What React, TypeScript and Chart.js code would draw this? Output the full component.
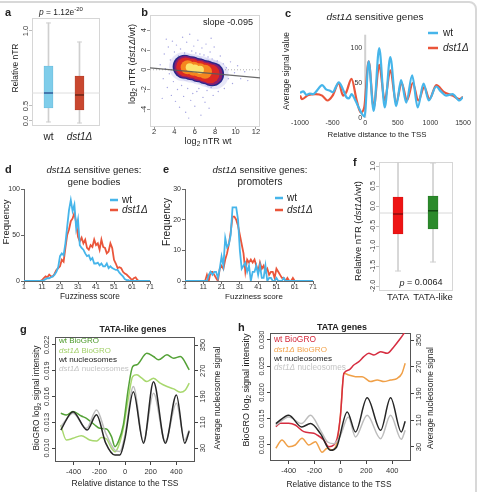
import React, { useEffect, useRef } from 'react';
import { Chart, registerables } from 'chart.js';

Chart.register(...registerables);

const W = 480;
const H = 492;
const FONT = '"Liberation Sans", Arial, Helvetica, sans-serif';
const INK = '#222';
const TICK_INK = '#333';

type Pt = [number, number];
const xy = (pts: Pt[]) => pts.map(([x, y]) => ({ x, y }));

/* ---------- a: relative nTR per strain ---------- */
const aPos = [1, 2];
const aNames = ['wt', 'dst1Δ'];
const aQ1 = [0.433, 0.367];
const aQ3 = [1.833, 1.5];
const aMed = [0.933, 0.867];
const aLow = [-0.033, -0.067];
const aHigh = [3.267, 2.633];
const aRef = 0.933;
const aTicks = [0, 0.5, 3];
const aTickText = ['0.0', '0.5', '1.0'];

/* ---------- b: log2 nTR dst1Δ/wt vs wt ---------- */
const bTicksX = [2, 4, 6, 8, 10, 12];
const bTicksY = [-4, -2, 0, 2, 4];
const bFit: Pt[] = [[1.6, 0.2], [12.4, -0.83]];
const bZero: Pt[] = [[1.6, 0], [12.4, 0]];
const bHalo: Pt[] = [[4.9, 0.3], [5.7, 0.15], [6.5, -0.05], [7.3, -0.3], [7.9, -0.5]];
const bBlue: Pt[] = [[5.0, 0.3], [5.7, 0.15], [6.4, -0.05], [7.1, -0.25], [7.7, -0.45]];
const bPurple: Pt[] = [[5.05, 0.3], [5.7, 0.15], [6.4, -0.05], [7.05, -0.25], [7.65, -0.45]];
const bRed: Pt[] = [[5.1, 0.28], [5.7, 0.15], [6.4, -0.05], [7.0, -0.25], [7.5, -0.4]];
const bOrange: Pt[] = [[5.3, 0.25], [5.9, 0.1], [6.5, -0.05], [7.0, -0.2]];
const bYellow: Pt[] = [[5.5, 0.25], [6.0, 0.12], [6.5, 0.0]];
const bSparse: Pt[] = [
  [2.6, 0.5], [2.9, -0.9], [3.0, 1.6], [3.1, 0.1], [3.3, -1.8], [3.4, 2.3], [3.5, -0.4], [3.6, 1.0],
  [3.7, -2.6], [3.8, 2.9], [3.9, -1.2], [4.0, 1.8], [4.1, -3.2], [4.2, 2.5], [4.3, -2.0], [4.4, 1.4],
  [4.5, -3.8], [4.6, 2.1], [4.7, -1.6], [4.8, 3.3], [4.9, -2.7], [5.0, 1.7], [5.1, -4.3], [5.2, 2.8],
  [5.3, -1.9], [5.5, 3.6], [5.6, -3.1], [5.7, 1.9], [5.8, -2.4], [5.9, 2.4], [6.0, -3.7], [6.1, 1.7],
  [6.2, -2.2], [6.3, 3.0], [6.4, -1.9], [6.5, 1.6], [6.6, -4.6], [6.7, 2.2], [6.8, -2.8], [6.9, 1.5],
  [7.0, -3.3], [7.1, 2.6], [7.2, -2.1], [7.3, 1.3], [7.4, -3.9], [7.5, 1.8], [7.6, -1.8], [7.7, 1.1],
  [7.8, -2.6], [7.9, 2.3], [8.0, -1.5], [8.2, 0.9], [8.3, -2.2], [8.5, 1.4], [8.6, -1.2], [8.8, 0.6],
  [8.9, -1.9], [9.1, 0.2], [9.3, -0.9], [9.5, 0.8], [9.7, -1.4], [9.9, -0.3], [10.2, 0.4], [10.5, -0.9],
  [10.9, -0.2], [11.2, -1.1], [3.2, 3.1], [5.4, -4.9], [7.6, 3.2], [2.8, -2.9],
];

/* ---------- c: average nucleosome signal around the TSS ---------- */
const cTicksX = [-1000, -500, 0, 500, 1000, 1500];
const cTicksY = [0, 50, 100];
const cTss: Pt[] = [[0, 0], [0, 119]];
const cWt: Pt[] = [
  [-1000, 36], [-950, 38], [-900, 33], [-850, 35], [-800, 34], [-750, 38], [-660, 47], [-600, 41],
  [-540, 39], [-500, 37], [-405, 51], [-350, 43], [-290, 30], [-250, 28], [-210, 34], [-150, 25],
  [-100, 15], [-50, 6], [-10, 2], [53, 81], [130, 10], [215, 100], [300, 15], [385, 87], [475, 17],
  [550, 54], [630, 22], [720, 61], [805, 15], [895, 49], [975, 25], [1090, 45], [1160, 38],
  [1240, 32], [1340, 34], [1445, 25], [1500, 30],
];
const cDst: Pt[] = [
  [-1000, 32], [-970, 27], [-870, 33], [-760, 34], [-660, 32], [-580, 25], [-500, 32], [-405, 50],
  [-340, 32], [-290, 37], [-210, 56], [-130, 25], [-70, 8], [-15, 15], [53, 81], [130, 15], [215, 76],
  [300, 25], [385, 68], [475, 22], [560, 50], [640, 25], [730, 50], [815, 25], [905, 44], [985, 27],
  [1090, 47], [1210, 37], [1340, 32], [1445, 27], [1500, 30],
];

/* ---------- d / e: fuzziness score histograms ---------- */
const fuzzScores = Array.from({ length: 71 }, (_, i) => i + 1);
const fuzzTicks = [1, 11, 21, 31, 41, 51, 61, 71];
const dWt = [
  0, 0, 0, 0, 0, 0, 0, 0, 0, 0,
  0, 1, 2, 3, 3, 4, 5, 7, 10, 15,
  27, 30, 28, 41, 59, 77, 88, 76, 83, 57,
  67, 39, 36, 34, 30, 27, 28, 23, 25, 19,
  19, 20, 17, 19, 16, 16, 19, 14, 16, 14,
  13, 12, 12, 9, 7, 5, 2, 1, 1, 0,
  0, 0, 0, 0, 0, 0, 0, 0, 0, 0, 0,
];
const dDst = [
  null, null, null, null, null, null, null, null, null, 0,
  1, 3, 5, 4, 7, 5, 5, 8, 12, 14,
  16, 23, 21, 36, 50, 56, 65, 68, 74, 63,
  48, 43, 47, 41, 45, 36, 34, 39, 37, 45,
  39, 41, 34, 45, 37, 36, 30, 32, 41, 36,
  23, 19, 14, 15, 14, 10, 8, 7, 5, 3,
  1, 3, 4, 1, 0, 0, 0, 0, 0, 0, 0,
];
const eWt = [
  0, 0, 0, 0, 0, 0, 0, 0, 0, 0,
  0, 0, 0, 2, 3, 2, 3, 3, 1, 4,
  8, 5, 14, 11, 12, 15, 24, 24, 24, 20,
  10, 4, 5, 6, 3, 5, 0, 3, 3, 5,
  2, 5, 1, 1, 5, 0, 1, 1, 0, 0,
  1, 0, 0, 0, 1, 0, 0, 0, 0, 0,
  0, 0, 0, 0, 0, 0, 0, 0, 0, 0, 0,
];
const eDst = [
  null, null, null, null, null, null, null, null, null, null,
  null, 0, 2, 0, 3, 3, 2, 1, 0, 4,
  5, 4, 7, 9, 12, 16, 21, 21, 20, 18,
  15, 12, 9, 3, 7, 6, 7, 6, 7, 5,
  3, 6, 4, 5, 3, 4, 2, 3, 3, 1,
  4, 3, 2, 1, 1, 0, 1, 0, 0, 1,
  0, 0, 0, 0, 0, 0, 0, 0, 0, 0, 0,
];

/* ---------- f: relative nTR by promoter class ---------- */
const fPos = [1, 2];
const fNames = ['TATA', 'TATA-like'];
const fQ1 = [-0.7, -0.575];
const fQ3 = [0.225, 0.25];
const fMed = [-0.2, -0.12];
const fLow = [-1.625, -1.4];
const fHigh = [1.1, 1.075];
const fRef = -0.175;
const fTicks = [1, 0.5, 0, -0.5, -1, -1.5, -2];

/* ---------- g / h: BioGRO and nucleosome profiles ---------- */
const profTicksX = [-400, -200, 0, 200, 400];
const gTicksL = [0.01, 0.013, 0.016, 0.019, 0.022];
const hTicksL = [0.01, 0.015, 0.02, 0.025, 0.03];
const nucTicks = [30, 110, 190, 270, 350];

const gWtGro: Pt[] = [
  [-500, 0.01405], [-457, 0.01385], [-405, 0.01424], [-340, 0.01373], [-300, 0.01346], [-235, 0.01268],
  [-196, 0.0123], [-144, 0.01222], [-105, 0.01132], [-78, 0.01016], [-52, 0.01074], [-13, 0.01268],
  [26, 0.01696], [60, 0.01949], [92, 0.01969], [170, 0.02105], [222, 0.02066], [261, 0.02027],
  [327, 0.02085], [379, 0.02046], [431, 0.02066], [500, 0.0191],
];
const gDstGro: Pt[] = [
  [-500, 0.01268], [-457, 0.01093], [-405, 0.01113], [-340, 0.01144], [-275, 0.01093], [-220, 0.01082],
  [-183, 0.01121], [-144, 0.01105], [-105, 0.00996], [-78, 0.00957], [-52, 0.01016], [-13, 0.0123],
  [26, 0.0158], [60, 0.01832], [92, 0.01852], [131, 0.01813], [170, 0.01774], [222, 0.01813],
  [274, 0.01755], [327, 0.01716], [379, 0.01689], [431, 0.0165], [470, 0.01677], [500, 0.01755],
];
const gWtNuc: Pt[] = [
  [-500, 86], [-405, 143], [-295, 86], [-222, 133], [-150, 45], [-78, 8], [-40, 8], [0, 60],
  [65, 205], [144, 45], [222, 236], [314, 45], [400, 195], [465, 45], [500, 82],
];
const gDstNuc: Pt[] = [
  [-500, 96], [-405, 138], [-300, 91], [-222, 148], [-150, 76], [-80, 24], [-40, 19], [0, 70],
  [65, 221], [144, 50], [222, 200], [314, 50], [400, 169], [465, 55], [500, 86],
];

const hWtGro: Pt[] = [
  [-500, 0.01349], [-465, 0.01413], [-400, 0.01413], [-350, 0.01381], [-284, 0.01254], [-206, 0.01222],
  [-180, 0.0119], [-129, 0.01095], [-90, 0.00968], [-52, 0.01], [-26, 0.01127], [0, 0.01572],
  [26, 0.02365], [64, 0.02429], [103, 0.02524], [142, 0.02588], [180, 0.02683], [219, 0.02746],
  [258, 0.02715], [310, 0.02778], [361, 0.02746], [413, 0.02873], [464, 0.03032], [500, 0.0316],
];
const hDstGro: Pt[] = [
  [-500, 0.00937], [-452, 0.01095], [-400, 0.00968], [-350, 0.01], [-297, 0.01127], [-245, 0.01],
  [-194, 0.01064], [-142, 0.0086], [-103, 0.00937], [-64, 0.00905], [-26, 0.01064], [0, 0.01572],
  [26, 0.02365], [64, 0.02334], [116, 0.02302], [168, 0.02302], [232, 0.02207], [284, 0.02238],
  [335, 0.02207], [387, 0.02238], [439, 0.0227], [475, 0.02365], [500, 0.02556],
];
const hWtNuc: Pt[] = [
  [-500, 100], [-400, 125], [-300, 90], [-232, 100], [-155, 70], [-77, 20], [-30, 30], [52, 135],
  [116, 75], [206, 177], [310, 80], [387, 177], [470, 75], [500, 107],
];
const hDstNuc: Pt[] = [
  [-500, 95], [-400, 120], [-300, 100], [-232, 125], [-155, 80], [-100, 45], [-50, 40], [0, 65],
  [60, 120], [116, 60], [206, 125], [310, 55], [387, 125], [470, 53], [500, 80],
];

/* ---------- colours ---------- */
const BLUE = '#46b5ea';
const RED = '#ea553a';

/* ---------- drawing helpers ---------- */
type Seg = string | { t: string; i?: boolean; b?: boolean; sub?: boolean; sup?: boolean };
interface TextOpt {
  size?: number;
  w?: number;
  align?: 'left' | 'center' | 'right';
  rot?: boolean;
  color?: string;
  bold?: boolean;
}

function rich(ctx: CanvasRenderingContext2D, segs: Seg[], x: number, y: number, o: TextOpt = {}) {
  const parts = segs.map((s) => (typeof s === 'string' ? { t: s } : s)) as any[];
  const font = (p: any, sz: number) =>
    `${p.i ? 'italic ' : ''}${p.b || o.bold ? 'bold ' : ''}${p.sub || p.sup ? sz * 0.72 : sz}px ${FONT}`;
  const measure = (sz: number) =>
    parts.reduce((acc, p) => {
      ctx.font = font(p, sz);
      return acc + ctx.measureText(p.t).width;
    }, 0);
  ctx.save();
  let size = o.size ?? 10;
  if (o.w) size = (size * o.w) / measure(size);
  ctx.translate(x, y);
  if (o.rot) ctx.rotate(-Math.PI / 2);
  ctx.textBaseline = 'middle';
  ctx.textAlign = 'left';
  ctx.fillStyle = o.color ?? INK;
  const total = measure(size);
  let cx = o.align === 'left' ? 0 : o.align === 'right' ? -total : -total / 2;
  for (const p of parts) {
    ctx.font = font(p, size);
    const dy = p.sub ? size * 0.3 : p.sup ? -size * 0.38 : 0;
    ctx.fillText(p.t, cx, dy);
    cx += ctx.measureText(p.t).width;
  }
  ctx.restore();
}

function xLabels(ch: any, id: string, y: number, size: number, fmt: (v: number) => string = String) {
  const s = ch.scales[id];
  s.ticks.forEach((t: any) =>
    rich(ch.ctx, [fmt(t.value)], s.getPixelForValue(t.value), y, { size, color: TICK_INK })
  );
}

function yLabels(
  ch: any,
  id: string,
  x: number,
  size: number,
  rot: boolean,
  fmt: (v: number) => string = String,
  align: 'left' | 'center' | 'right' = 'center'
) {
  const s = ch.scales[id];
  s.ticks.forEach((t: any) =>
    rich(ch.ctx, [fmt(t.value)], x, s.getPixelForValue(t.value), { size, rot, align, color: TICK_INK })
  );
}

function legendLine(ctx: CanvasRenderingContext2D, x1: number, x2: number, y: number, color: string, lw = 2.2) {
  ctx.save();
  ctx.strokeStyle = color;
  ctx.lineWidth = lw;
  ctx.beginPath();
  ctx.moveTo(x1, y);
  ctx.lineTo(x2, y);
  ctx.stroke();
  ctx.restore();
}

const pad = (L: number, T: number, R: number, B: number) => ({ left: L, top: T, right: W - R, bottom: H - B });

const zeroFit = (s: any) => {
  if (s.isHorizontal()) s.height = 0;
  else s.width = 0;
};

function axis(o: {
  min: number;
  max: number;
  pos?: any;
  ticks?: number[];
  tick?: number;
  tc?: string;
  border?: boolean;
  bc?: string;
  bw?: number;
}) {
  const vals = o.ticks ?? [];
  return {
    type: 'linear',
    min: o.min,
    max: o.max,
    bounds: 'data',
    offset: false,
    position: o.pos,
    afterFit: zeroFit,
    afterBuildTicks: (s: any) => {
      s.ticks = vals.map((v) => ({ value: v }));
    },
    ticks: { display: false },
    grid: {
      display: !!o.tick,
      offset: false,
      drawOnChartArea: false,
      drawTicks: !!o.tick,
      tickLength: o.tick ?? 0,
      color: o.tc ?? '#555',
      tickColor: o.tc ?? '#555',
      lineWidth: 1,
    },
    border: { display: !!o.border, color: o.bc ?? '#555', width: o.bw ?? 1 },
  };
}

function baseOptions(padding: any, scales: any) {
  return {
    responsive: false,
    animation: false,
    devicePixelRatio: 1,
    events: [],
    layout: { padding },
    plugins: { legend: { display: false }, tooltip: { enabled: false }, title: { display: false } },
    scales,
  };
}

function framePlugin(color: string, lw = 1) {
  return {
    id: 'frame',
    beforeDatasetsDraw(ch: any) {
      const { left, top, right, bottom } = ch.chartArea;
      const c = ch.ctx;
      c.save();
      c.strokeStyle = color;
      c.lineWidth = lw;
      c.strokeRect(Math.round(left) + 0.5, Math.round(top) + 0.5, Math.round(right - left) - 1, Math.round(bottom - top) - 1);
      c.restore();
    },
  };
}

const textPlugin = (draw: (ch: any) => void) => ({ id: 'labels', afterDraw: draw });

const line = (data: Pt[], color: string, width: number, extra: any = {}) => ({
  type: 'line',
  data: xy(data),
  borderColor: color,
  borderWidth: width,
  pointRadius: 0,
  fill: false,
  cubicInterpolationMode: 'monotone',
  ...extra,
});

const dots = (data: Pt[], color: string, r: number, extra: any = {}) => ({
  type: 'scatter',
  data: xy(data),
  showLine: false,
  pointRadius: r,
  pointBackgroundColor: color,
  pointBorderWidth: 0,
  ...extra,
});

/* boxplot pieces: median, box, caps, whisker */
function boxDatasets(
  pos: number[],
  q1: number[],
  q3: number[],
  med: number[],
  lo: number[],
  hi: number[],
  fills: string[],
  edges: string[],
  medColors: string[],
  boxW: number,
  capR: number,
  whisker: string
) {
  return [
    {
      type: 'scatter',
      data: pos.map((p, i) => ({ x: p, y: med[i] })),
      pointStyle: 'line',
      pointRadius: boxW / 2,
      pointBorderColor: medColors,
      pointBorderWidth: 1.3,
      showLine: false,
    },
    {
      type: 'bar',
      data: pos.map((p, i) => ({ x: p, y: [q1[i], q3[i]] })),
      backgroundColor: fills,
      borderColor: edges,
      borderWidth: 0.6,
      borderSkipped: false,
      barThickness: boxW,
      grouped: false,
    },
    {
      type: 'scatter',
      data: pos.flatMap((p, i) => [{ x: p, y: lo[i] }, { x: p, y: hi[i] }]),
      pointStyle: 'line',
      pointRadius: capR,
      pointBorderColor: whisker,
      pointBorderWidth: 1,
      showLine: false,
    },
    {
      type: 'bar',
      data: pos.map((p, i) => ({ x: p, y: [lo[i], hi[i]] })),
      backgroundColor: whisker,
      borderWidth: 0,
      barThickness: 1,
      grouped: false,
    },
  ];
}

/* ---------- panels ---------- */
function panelA() {
  const L = 32, T = 18, R = 100, B = 126;
  return {
    type: 'bar',
    data: {
      datasets: [
        ...boxDatasets(aPos, aQ1, aQ3, aMed, aLow, aHigh, ['#7fcdea', '#c9472f'], ['#5eb3d6', '#a83a26'],
          ['#244a8c', '#5a2016'], 9, 2.5, '#cfcfcf'),
        line([[0.4, aRef], [2.7, aRef]], '#dedede', 1, { cubicInterpolationMode: 'default' }),
      ],
    },
    options: baseOptions(pad(L, T, R, B), {
      x: axis({ min: 0.468, max: 2.662 }),
      y: axis({ min: -0.167, max: 3.433, ticks: aTicks, tick: 3, tc: '#bdbdbd' }),
    }),
    plugins: [
      framePlugin('#d6d6d6'),
      textPlugin((ch) => {
        const c = ch.ctx;
        rich(c, ['a'], 5, 13, { size: 11, bold: true, align: 'left' });
        rich(c, [{ t: 'p', i: true }, ' = 1.12e', { t: '-20', sup: true }], 61, 13, { w: 44 });
        rich(c, ['Relative nTR'], 16, 68, { w: 49, rot: true });
        aNames.forEach((n, i) =>
          rich(c, [i === 0 ? n : { t: n, i: true }], ch.scales.x.getPixelForValue(aPos[i]), 137, { size: 10 })
        );
        yLabels(ch, 'y', 26, 7.5, true, (v) => aTickText[aTicks.indexOf(v)]);
      }),
    ],
  };
}

function panelB() {
  const L = 150, T = 13, R = 260, B = 126;
  return {
    type: 'scatter',
    data: {
      datasets: [
        line(bFit, 'rgba(90,90,90,0.9)', 1.2, { cubicInterpolationMode: 'default' }),
        dots(bYellow, '#fbe36e', 4),
        dots(bOrange, '#f5861f', 7),
        dots(bRed, '#dc2a24', 9.5),
        dots(bPurple, '#8a1f6e', 10.8),
        dots(bBlue, '#27278a', 12),
        dots(bHalo, 'rgba(120,120,215,0.18)', 14.5),
        dots(bSparse, 'rgba(90,90,200,0.55)', 0.7),
        line(bZero, '#b5b5b5', 1, { borderDash: [1, 2], cubicInterpolationMode: 'default' }),
      ],
    },
    options: baseOptions(pad(L, T, R, B), {
      x: axis({ min: 1.6, max: 12.4, ticks: bTicksX, tick: 3, tc: '#9a9a9a' }),
      y: axis({ min: -5.7, max: 5.6, ticks: bTicksY, tick: 3, tc: '#9a9a9a' }),
    }),
    plugins: [
      framePlugin('#d6d6d6'),
      textPlugin((ch) => {
        const c = ch.ctx;
        rich(c, ['b'], 148, 13, { size: 11, bold: true, align: 'right' });
        rich(c, ['slope -0.095'], 228, 22, { w: 50 });
        rich(c, ['log', { t: '2', sub: true }, ' nTR (', { t: 'dst1Δ', i: true }, '/wt)'], 132, 64, { w: 80, rot: true });
        rich(c, ['log', { t: '2', sub: true }, ' nTR wt'], 208, 141, { w: 47 });
        xLabels(ch, 'x', 132, 7.5);
        yLabels(ch, 'y', 144, 7.5, true);
      }),
    ],
  };
}

function panelC() {
  const L = 300, T = 34, R = 463, B = 118;
  return {
    type: 'line',
    data: {
      datasets: [
        line(cWt, BLUE, 2.2),
        line(cDst, RED, 2.2),
        line(cTss, '#d0d0d0', 2, { cubicInterpolationMode: 'default' }),
      ],
    },
    options: baseOptions(pad(L, T, R, B), {
      x: axis({ min: -1000, max: 1500, ticks: cTicksX }),
      y: axis({ min: 0, max: 120, ticks: cTicksY }),
    }),
    plugins: [
      textPlugin((ch) => {
        const c = ch.ctx;
        rich(c, ['c'], 285, 14, { size: 11, bold: true, align: 'left' });
        rich(c, [{ t: 'dst1Δ', i: true }, ' sensitive genes'], 375, 17, { w: 97 });
        legendLine(c, 428, 438, 33, BLUE, 2.5);
        legendLine(c, 428, 438, 48, RED, 2.5);
        rich(c, ['wt'], 443, 33, { size: 10, align: 'left' });
        rich(c, [{ t: 'dst1Δ', i: true }], 443, 48, { size: 10, align: 'left' });
        rich(c, ['Relative distance to the TSS'], 377, 135, { w: 99 });
        rich(c, ['Average signal value'], 287, 71, { w: 78, rot: true });
        xLabels(ch, 'x', 123, 7);
        const x0 = ch.scales.x.getPixelForValue(0);
        yLabels(ch, 'y', x0 - 3, 7, false, String, 'right');
      }),
    ],
  };
}

function fuzzPanel(
  letter: string,
  L: number,
  R: number,
  yMax: number,
  yTicks: number[],
  wt: (number | null)[],
  dst: (number | null)[],
  o: { cx: number; sub: string; subW: number; lx: number; ly: number[]; titleX: number; titleW: number; yx: number; yW: number; letterX: number }
) {
  const T = 189, B = 281;
  return {
    type: 'line',
    data: {
      datasets: [
        { type: 'line', data: fuzzScores.map((s, i) => ({ x: s, y: wt[i] })), borderColor: BLUE, borderWidth: 1.8, pointRadius: 0, tension: 0 },
        { type: 'line', data: fuzzScores.map((s, i) => ({ x: s, y: dst[i] })), borderColor: RED, borderWidth: 1.8, pointRadius: 0, tension: 0 },
      ],
    },
    options: baseOptions(pad(L, T, R, B), {
      x: axis({ min: 1, max: 71, ticks: fuzzTicks, tick: 3, tc: '#666', border: true, bc: '#666' }),
      y: axis({ min: 0, max: yMax, ticks: yTicks, tick: 3, tc: '#666', border: true, bc: '#666' }),
    }),
    plugins: [
      textPlugin((ch) => {
        const c = ch.ctx;
        rich(c, [letter], o.letterX, 170, { size: 11, bold: true, align: 'left' });
        rich(c, [{ t: 'dst1Δ', i: true }, ' sensitive genes:'], o.cx, 170, { w: 95 });
        rich(c, [o.sub], o.cx, 182, { w: o.subW });
        legendLine(c, o.lx, o.lx + 8, o.ly[0], BLUE, 2.5);
        legendLine(c, o.lx, o.lx + 8, o.ly[1], RED, 2.5);
        rich(c, ['wt'], o.lx + 12, o.ly[0], { size: 10, align: 'left' });
        rich(c, [{ t: 'dst1Δ', i: true }], o.lx + 12, o.ly[1], { size: 10, align: 'left' });
        rich(c, ['Fuzziness score'], o.titleX, 297, { w: o.titleW });
        rich(c, ['Frequency'], o.yx, 222, { w: o.yW, rot: true });
        xLabels(ch, 'x', 287, 7);
        yLabels(ch, 'y', L - 4, 7, false, String, 'right');
      }),
    ],
  };
}

function panelF() {
  const L = 379, T = 162, R = 453, B = 291;
  return {
    type: 'bar',
    data: {
      datasets: [
        ...boxDatasets(fPos, fQ1, fQ3, fMed, fLow, fHigh, ['#ee1414', '#2b8a2b'], ['#c81010', '#1f6e1f'],
          ['#7a0a0a', '#0f3f0f'], 10, 3, '#d0d0d0'),
        line([[0.4, fRef], [2.7, fRef]], '#d8d8d8', 1, { cubicInterpolationMode: 'default' }),
      ],
    },
    options: baseOptions(pad(L, T, R, B), {
      x: axis({ min: 0.457, max: 2.571 }),
      y: axis({ min: -2.125, max: 1.1, ticks: fTicks, tick: 3, tc: '#bdbdbd' }),
    }),
    plugins: [
      framePlugin('#d6d6d6'),
      textPlugin((ch) => {
        const c = ch.ctx;
        rich(c, ['f'], 353, 163, { size: 11, bold: true, align: 'left' });
        rich(c, ['Relative nTR (', { t: 'dst1Δ', i: true }, '/wt)'], 358, 231, { w: 100, rot: true });
        rich(c, [{ t: 'p', i: true }, ' = 0.0064'], 421, 283, { w: 43 });
        fNames.forEach((n, i) => rich(c, [n], ch.scales.x.getPixelForValue(fPos[i]), 297, { size: 9.5 }));
        yLabels(ch, 'y', 373, 7, true, (v) => v.toFixed(1));
      }),
    ],
  };
}

function profilePanel(
  letter: string,
  rect: [number, number, number, number],
  yL: [number, number],
  yR: [number, number],
  ticksL: number[],
  series: { data: Pt[]; color: string; axis: string }[],
  legend: { segs: Seg[]; color: string; w: number }[],
  o: { letterX: number; titleY: number; title: string; titleX: number; titleW: number; legY: number[]; leftTitleX: number; leftTitleY: number; leftTitleW: number; rightTitleX: number; rightTitleY: number; rightTitleW: number; xTitleX: number; xTitleY: number; xTitleW: number }
) {
  const [L, T, R, B] = rect;
  return {
    type: 'line',
    data: {
      datasets: series.map((s) => line(s.data, s.color, 1.5, { yAxisID: s.axis })),
    },
    options: baseOptions(pad(L, T, R, B), {
      x: axis({ min: -545, max: 545, ticks: profTicksX, tick: 3, tc: '#444' }),
      y: axis({ min: yL[0], max: yL[1], ticks: ticksL, tick: 3, tc: '#444' }),
      y2: axis({ min: yR[0], max: yR[1], pos: 'right', ticks: nucTicks, tick: 3, tc: '#444' }),
    }),
    plugins: [
      framePlugin('#555'),
      textPlugin((ch) => {
        const c = ch.ctx;
        rich(c, [letter], o.letterX, o.titleY, { size: 11, bold: true, align: 'left' });
        rich(c, [o.title], o.titleX, o.titleY, { w: o.titleW, bold: true });
        legend.forEach((l, i) => rich(c, l.segs, L + 4, o.legY[i], { w: l.w, align: 'left', color: l.color }));
        rich(c, ['BioGRO log', { t: '2', sub: true }, ' signal intensity'], o.leftTitleX, o.leftTitleY, { w: o.leftTitleW, rot: true });
        rich(c, ['Average nucleosome signal'], o.rightTitleX, o.rightTitleY, { w: o.rightTitleW, rot: true });
        rich(c, ['Relative distance to the TSS'], o.xTitleX, o.xTitleY, { w: o.xTitleW });
        xLabels(ch, 'x', B + 10, 7.5);
        yLabels(ch, 'y', L - 8, 7.5, true, (v) => v.toFixed(3));
        yLabels(ch, 'y2', R + 8, 7.5, true);
      }),
    ],
  };
}

const panels = [
  panelA,
  panelB,
  panelC,
  () =>
    fuzzPanel('d', 24, 150, 100, [0, 50, 100], dWt, dDst, {
      cx: 94, sub: 'gene bodies', subW: 53, lx: 110, ly: [200, 210], titleX: 90, titleW: 60, yx: 6, yW: 45, letterX: 5,
    }),
  () =>
    fuzzPanel('e', 185, 313, 30, [0, 10, 20, 30], eWt, eDst, {
      cx: 260, sub: 'promoters', subW: 45, lx: 275, ly: [198, 210], titleX: 254, titleW: 58, yx: 167, yW: 48, letterX: 163,
    }),
  panelF,
  () =>
    profilePanel(
      'g',
      [55, 337, 195, 462],
      [0.00837, 0.02293],
      [-13.5, 374.9],
      gTicksL,
      [
        { data: gWtNuc, color: '#262626', axis: 'y2' },
        { data: gDstNuc, color: '#bdbdbd', axis: 'y2' },
        { data: gWtGro, color: '#54a237', axis: 'y' },
        { data: gDstGro, color: '#a8d86e', axis: 'y' },
      ],
      [
        { segs: ['wt BioGRO'], color: '#4c9a2a', w: 40 },
        { segs: [{ t: 'dst1Δ', i: true }, ' BioGRO'], color: '#a2d068', w: 52 },
        { segs: ['wt nucleosomes'], color: '#222', w: 58 },
        { segs: [{ t: 'dst1Δ', i: true }, ' nucleosomes'], color: '#c4c4c4', w: 70 },
      ],
      {
        letterX: 20, titleY: 330, title: 'TATA-like genes', titleX: 133, titleW: 67, legY: [341, 351, 360, 369],
        leftTitleX: 37, leftTitleY: 398, leftTitleW: 105, rightTitleX: 218, rightTitleY: 398, rightTitleW: 103,
        xTitleX: 125, xTitleY: 484, xTitleW: 107,
      }
    ),
  () =>
    profilePanel(
      'h',
      [270, 333, 411, 461],
      [0.00695, 0.03133],
      [-11.9, 371],
      hTicksL,
      [
        { data: hWtNuc, color: '#262626', axis: 'y2' },
        { data: hDstNuc, color: '#bdbdbd', axis: 'y2' },
        { data: hWtGro, color: '#d62d40', axis: 'y' },
        { data: hDstGro, color: '#f0a048', axis: 'y' },
      ],
      [
        { segs: ['wt BioGRO'], color: '#d42a3c', w: 42 },
        { segs: [{ t: 'dst1Δ', i: true }, ' BioGRO'], color: '#f2a24a', w: 53 },
        { segs: ['wt nucleosomes'], color: '#222', w: 58 },
        { segs: [{ t: 'dst1Δ', i: true }, ' nucleosomes'], color: '#c4c4c4', w: 72 },
      ],
      {
        letterX: 238, titleY: 328, title: 'TATA genes', titleX: 342, titleW: 50, legY: [340, 350, 359, 368],
        leftTitleX: 247, leftTitleY: 390, leftTitleW: 113, rightTitleX: 431, rightTitleY: 398, rightTitleW: 102,
        xTitleX: 339, xTitleY: 485, xTitleW: 105,
      }
    ),
];

function PanelCanvas({ make }: { make: () => any }) {
  const ref = useRef<HTMLCanvasElement | null>(null);
  useEffect(() => {
    if (!ref.current) return;
    const chart = new Chart(ref.current, make());
    return () => chart.destroy();
  }, [make]);
  return (
    <canvas
      ref={ref}
      width={W}
      height={H}
      style={{ position: 'absolute', left: 0, top: 0, width: W, height: H, pointerEvents: 'none' }}
    />
  );
}

export default function App() {
  return (
    <div style={{ position: 'fixed', left: 0, top: 0, width: W, height: H, background: '#fff', overflow: 'hidden' }}>
      <div
        style={{
          position: 'absolute',
          left: -20,
          top: 1,
          width: 493,
          height: 600,
          border: '2px solid #d8d8d8',
          borderTopRightRadius: 8,
        }}
      />
      {panels.map((p, i) => (
        <PanelCanvas key={i} make={p} />
      ))}
    </div>
  );
}
